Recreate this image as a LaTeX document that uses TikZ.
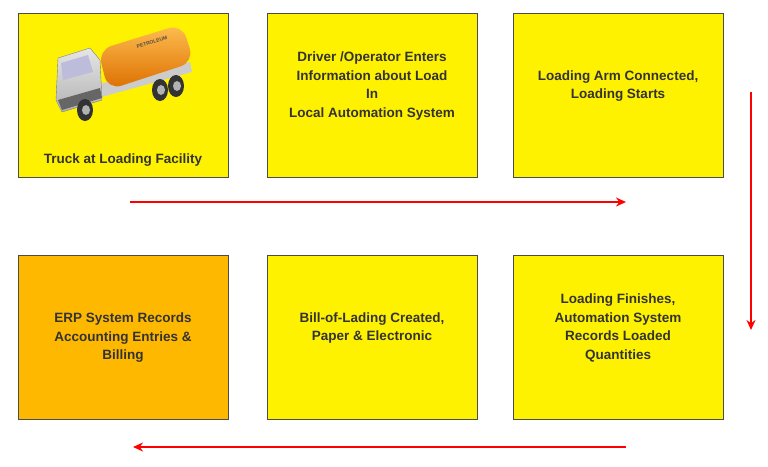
\documentclass[tikz,border=0pt]{standalone}
\usepackage{fontspec}
\setmainfont{Liberation Sans}
\usetikzlibrary{arrows.meta}
\begin{document}
\begin{tikzpicture}[x=1pt,y=-1pt,
  box/.style={draw=black!70,line width=0.6pt,fill=yellow,minimum width=210pt,minimum height=164pt,anchor=north west,inner sep=0pt},
  lbl/.style={font=\bfseries\fontsize{13.5}{18.5}\selectfont,text=black!80,align=center},
  flow/.style={draw=red,line width=1.8pt,-{Stealth[length=10pt,width=9pt]}}]
\useasboundingbox (0,0) rectangle (768,466);
\node[box] (b1) at (18,13) {};
\node[box] (b2) at (267,13) {};
\node[box] (b3) at (513,13) {};
\node[box,fill={rgb,255:red,255;green,184;blue,0}] (b4) at (18,255) {};
\node[box] (b5) at (267,255) {};
\node[box] (b6) at (513,255) {};
\node[lbl] (t1) at (123,160) {Truck at Loading Facility};
\node[lbl] (t2) at (372,86) {Driver /Operator Enters\\Information about Load\\In\\Local Automation System};
\node[lbl] (t3) at (618,86) {Loading Arm Connected,\\Loading Starts};
\node[lbl] (t4) at (123,338) {ERP System Records\\Accounting Entries \&\\Billing};
\node[lbl] (t5) at (372,328) {Bill-of-Lading Created,\\Paper \& Electronic};
\node[lbl] (t6) at (618,328) {Loading Finishes,\\Automation System\\Records Loaded\\Quantities};
% truck
\fill[gray!40] (95,85) -- (190,62) -- (192,72) -- (98,98) -- cycle;
\shade[rounded corners=14pt,top color={rgb,255:red,255;green,190;blue,80},bottom color={rgb,255:red,220;green,110;blue,0}]
  (98,50) -- (182,24) -- (194,62) -- (108,90) -- cycle;
\node[font=\bfseries\fontsize{5}{6}\selectfont,text=black!70,rotate=17] (pet) at (152,42) {PETROLEUM};
\shade[top color=gray!20,bottom color=gray!60,draw=gray] (58,58) -- (90,48) -- (100,60) -- (102,100) -- (62,112) -- (56,100) -- cycle;
\fill[gray!70!blue!40] (61,63) -- (88,55) -- (93,72) -- (63,80) -- cycle;
\fill[gray!80!black] (58,100) -- (100,88) -- (102,98) -- (62,110) -- cycle;
\foreach \cx/\cy in {85/110,160/90,176/86}{\fill[black!80] (\cx,\cy) ellipse (8 and 11); \fill[gray!60] (\cx+1,\cy) ellipse (4 and 5);}
% arrows
\coordinate (a1) at (130,202); \coordinate (a2) at (626,202);
\coordinate (v1) at (751,92); \coordinate (v2) at (751,330);
\coordinate (c1) at (626,447); \coordinate (c2) at (133,447);
\draw[flow] (a1) -- (a2);
\draw[flow] (v1) -- (v2);
\draw[flow] (c1) -- (c2);
\end{tikzpicture}
\end{document}
